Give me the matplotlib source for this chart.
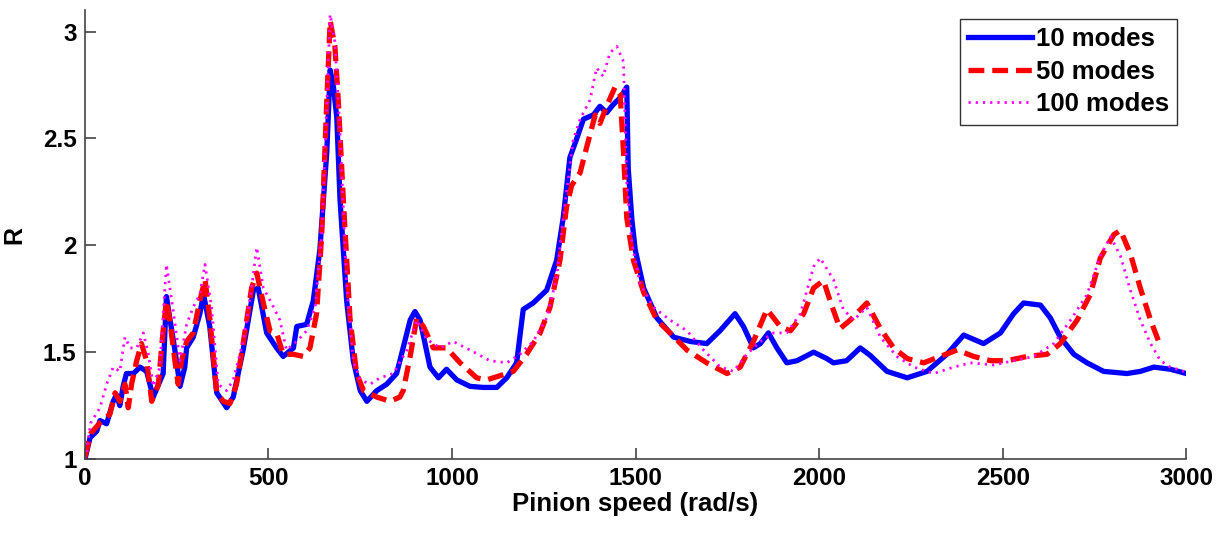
import matplotlib
matplotlib.use("Agg")
import matplotlib.pyplot as plt

x10 = [0, 14, 32, 41, 59, 77, 86, 95, 104, 113, 132, 150, 168, 186, 196, 213, 222, 231, 245, 259,
       272, 277, 295, 313, 323, 340, 359, 386, 404, 431, 459, 472, 495, 522, 540, 568, 577, 604,
       622, 640, 659, 668, 677, 686, 695, 713, 731, 750, 768, 795, 822, 849, 858, 886, 899, 913,
       940, 963, 985, 1013, 1049, 1085, 1122, 1149, 1176, 1194, 1221, 1258, 1285, 1303, 1321,
       1340, 1358, 1385, 1403, 1421, 1440, 1458, 1476, 1480, 1490, 1499, 1522, 1558, 1604, 1649,
       1694, 1730, 1771, 1794, 1821, 1840, 1862, 1885, 1912, 1940, 1985, 2021, 2039, 2075, 2112,
       2139, 2185, 2240, 2294, 2348, 2394, 2448, 2494, 2530, 2557, 2603, 2630, 2657, 2694, 2730,
       2775, 2839, 2875, 2912, 2957, 3000]
y10 = [1.00, 1.10, 1.13, 1.18, 1.165, 1.27, 1.30, 1.25, 1.34, 1.40, 1.40, 1.43, 1.41, 1.29, 1.33,
       1.40, 1.76, 1.66, 1.51, 1.34, 1.43, 1.52, 1.57, 1.68, 1.77, 1.62, 1.31, 1.24, 1.29, 1.51,
       1.79, 1.80, 1.59, 1.52, 1.48, 1.52, 1.62, 1.63, 1.74, 1.98, 2.44, 2.82, 2.74, 2.60, 2.21,
       1.74, 1.46, 1.32, 1.27, 1.32, 1.35, 1.40, 1.46, 1.65, 1.69, 1.65, 1.43, 1.38, 1.42, 1.37,
       1.34, 1.335, 1.335, 1.38, 1.45, 1.70, 1.73, 1.79, 1.93, 2.13, 2.41, 2.50, 2.59, 2.61, 2.65,
       2.62, 2.66, 2.69, 2.74, 2.36, 2.12, 1.98, 1.80, 1.66, 1.57, 1.55, 1.54, 1.60, 1.68, 1.62,
       1.52, 1.54, 1.59, 1.52, 1.45, 1.46, 1.50, 1.47, 1.45, 1.46, 1.52, 1.485, 1.41, 1.38, 1.41,
       1.49, 1.58, 1.54, 1.59, 1.68, 1.73, 1.72, 1.66, 1.57, 1.49, 1.45, 1.41, 1.40, 1.41, 1.43,
       1.42, 1.40]

x50 = [0, 16, 41, 68, 82, 95, 109, 118, 127, 141, 154, 168, 182, 200, 213, 222, 231, 245, 254,
       263, 277, 295, 313, 327, 340, 359, 377, 395, 413, 431, 454, 468, 486, 504, 522, 540, 568,
       595, 613, 631, 645, 659, 668, 681, 690, 704, 722, 740, 759, 795, 831, 858, 867, 886, 904,
       922, 949, 985, 1022, 1067, 1094, 1131, 1167, 1203, 1240, 1267, 1294, 1312, 1326, 1349,
       1367, 1390, 1403, 1421, 1444, 1458, 1467, 1476, 1494, 1522, 1558, 1594, 1640, 1694, 1749,
       1785, 1821, 1858, 1894, 1922, 1958, 1985, 2012, 2030, 2057, 2085, 2130, 2167, 2203, 2240,
       2285, 2330, 2376, 2421, 2467, 2512, 2567, 2621, 2657, 2703, 2739, 2766, 2803, 2821, 2848,
       2875, 2903, 2925]
y50 = [1.01, 1.12, 1.17, 1.21, 1.31, 1.27, 1.35, 1.24, 1.35, 1.46, 1.54, 1.46, 1.27, 1.35, 1.60,
       1.74, 1.65, 1.46, 1.35, 1.46, 1.55, 1.59, 1.74, 1.84, 1.66, 1.31, 1.27, 1.26, 1.35, 1.54,
       1.80, 1.87, 1.73, 1.60, 1.59, 1.49, 1.49, 1.48, 1.52, 1.68, 2.05, 2.68, 3.05, 2.93, 2.68,
       2.21, 1.66, 1.40, 1.32, 1.29, 1.27, 1.29, 1.32, 1.48, 1.66, 1.62, 1.52, 1.52, 1.45, 1.38,
       1.37, 1.39, 1.41, 1.49, 1.59, 1.71, 1.93, 2.18, 2.28, 2.34, 2.46, 2.61, 2.57, 2.65, 2.74,
       2.71, 2.44, 2.13, 1.93, 1.78, 1.65, 1.59, 1.51, 1.45, 1.40, 1.43, 1.55, 1.70, 1.62, 1.60,
       1.68, 1.80, 1.835, 1.74, 1.61, 1.65, 1.73, 1.61, 1.52, 1.47, 1.45, 1.48, 1.51, 1.48, 1.46,
       1.46, 1.48, 1.49, 1.54, 1.65, 1.77, 1.94, 2.05, 2.07, 1.96, 1.80, 1.65, 1.55]

x100 = [0, 16, 41, 59, 77, 95, 109, 123, 141, 159, 173, 186, 204, 222, 240, 259, 277, 295, 313,
        327, 345, 363, 386, 404, 431, 454, 468, 486, 508, 531, 549, 577, 604, 627, 645, 659, 668,
        681, 695, 713, 731, 750, 777, 804, 840, 877, 904, 931, 967, 1003, 1049, 1103, 1149, 1185,
        1221, 1258, 1285, 1303, 1330, 1349, 1376, 1394, 1412, 1430, 1449, 1467, 1476, 1490, 1512,
        1549, 1594, 1640, 1685, 1731, 1767, 1803, 1840, 1876, 1912, 1949, 1985, 2003, 2039, 2066,
        2094, 2130, 2167, 2212, 2258, 2312, 2367, 2412, 2476, 2530, 2585, 2639, 2685, 2730, 2766,
        2794, 2821, 2848, 2875, 2903, 2930, 2957, 2994]
y100 = [1.00, 1.17, 1.24, 1.35, 1.43, 1.41, 1.57, 1.52, 1.52, 1.59, 1.49, 1.34, 1.43, 1.91, 1.70,
        1.46, 1.63, 1.71, 1.77, 1.91, 1.71, 1.35, 1.32, 1.37, 1.55, 1.80, 1.99, 1.80, 1.73, 1.65,
        1.51, 1.55, 1.60, 1.71, 2.05, 2.68, 3.08, 2.95, 2.52, 1.82, 1.46, 1.37, 1.35, 1.38, 1.40,
        1.51, 1.65, 1.56, 1.52, 1.55, 1.51, 1.46, 1.45, 1.49, 1.55, 1.66, 1.85, 2.13, 2.49, 2.59,
        2.68, 2.83, 2.79, 2.90, 2.93, 2.86, 2.29, 2.01, 1.82, 1.71, 1.65, 1.60, 1.51, 1.43, 1.41,
        1.49, 1.55, 1.59, 1.59, 1.68, 1.90, 1.94, 1.84, 1.70, 1.65, 1.71, 1.57, 1.48, 1.43, 1.40,
        1.43, 1.45, 1.44, 1.46, 1.48, 1.54, 1.65, 1.77, 1.95, 2.04, 1.95, 1.79, 1.65, 1.54, 1.46,
        1.43, 1.41]

labels = ["10 modes", "50 modes", "100 modes"]
xticks = [0, 500, 1000, 1500, 2000, 2500, 3000]
yticks = [1, 1.5, 2, 2.5, 3]

plt.rcParams['font.family'] = ['Liberation Sans', 'DejaVu Sans']
plt.rcParams['font.weight'] = 'bold'

fig = plt.figure(figsize=(12.24, 5.34), dpi=100)
ax = fig.add_axes([0.0694, 0.1404, 0.8997, 0.8406])

ax.plot(x10, y10, color='#0000ff', lw=3.8, ls='-', label=labels[0], solid_joinstyle='round')
ax.plot(x50, y50, color='#ff0000', lw=3.8, ls=(0, (3.0, 1.5)), label=labels[1])
ax.plot(x100, y100, color='#ff00ff', lw=2.0, ls=(0, (0.8, 1.8)), label=labels[2])

ax.set_xlim(0, 3000)
ax.set_ylim(1, 3.1)
ax.set_xticks(xticks)
ax.set_xticklabels([str(t) for t in xticks])
ax.set_yticks(yticks)
ax.set_yticklabels(["1", "1.5", "2", "2.5", "3"])

for s in ['top', 'right']:
    ax.spines[s].set_visible(False)
for s in ['left', 'bottom']:
    ax.spines[s].set_color('#444444')
    ax.spines[s].set_linewidth(1.2)

ax.tick_params(direction='in', length=8, width=1.2, color='#444444',
               labelsize=17.5, pad=6)
for lab in ax.get_xticklabels() + ax.get_yticklabels():
    lab.set_fontweight('bold')

ax.set_xlabel("Pinion speed (rad/s)", fontsize=18.5, fontweight='bold', labelpad=1)
ax.set_ylabel("R", fontsize=18, fontweight='bold', labelpad=12)

leg = ax.legend(loc='upper right', fontsize=18.5, frameon=True, fancybox=False,
                edgecolor='black', handlelength=2.5, handletextpad=0.15,
                borderaxespad=0.35, labelspacing=0.33, borderpad=0.32)
leg.get_frame().set_linewidth(1.0)
for t in leg.get_texts():
    t.set_fontweight('bold')

fig.savefig("out.png", dpi=100, facecolor='white')
